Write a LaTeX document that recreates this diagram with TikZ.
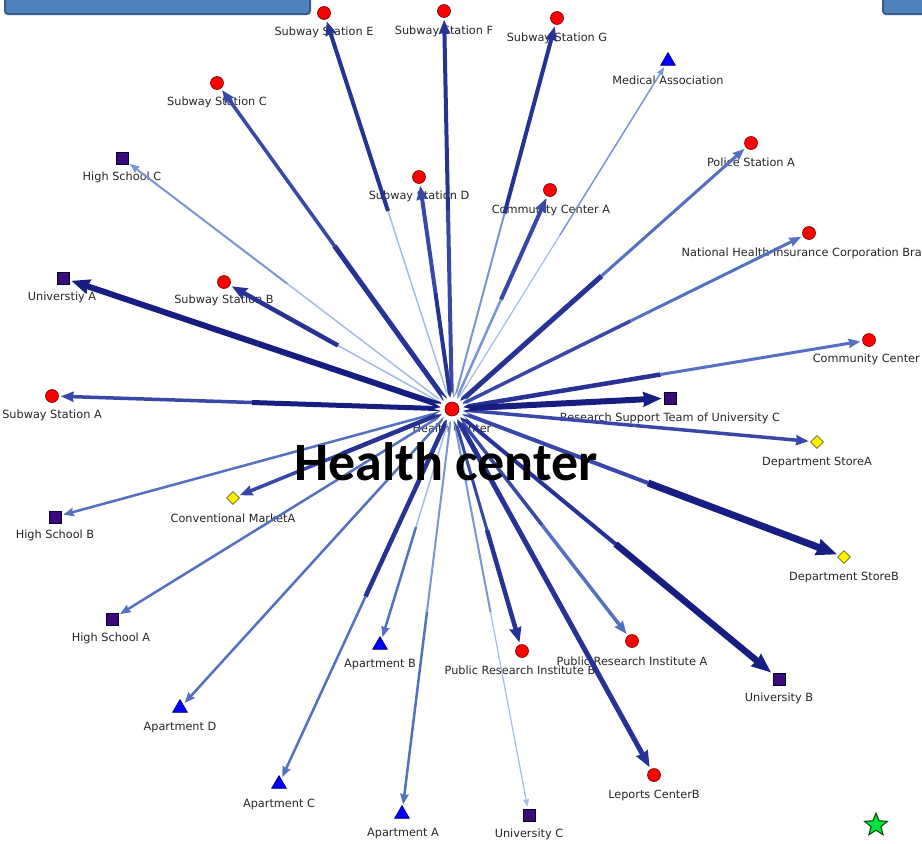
\documentclass[tikz,border=0pt]{standalone}
\usepackage{fontspec}
\setmainfont{DejaVu Sans}
\newfontfamily\headfont{Carlito}
\usetikzlibrary{arrows.meta,calc,shapes.geometric}

\definecolor{navy}{RGB}{22,30,130}
\definecolor{dkblue}{RGB}{38,50,148}
\definecolor{mdblue}{RGB}{55,72,168}
\definecolor{mlblue}{RGB}{84,112,192}
\definecolor{ltblue}{RGB}{122,150,210}
\definecolor{paleblue}{RGB}{165,188,228}
\definecolor{boxfill}{RGB}{79,129,189}
\definecolor{boxline}{RGB}{56,93,138}
\definecolor{sqfill}{RGB}{60,10,120}
\definecolor{starfill}{RGB}{0,230,60}

\tikzset{
  lbl/.style={font=\fontsize{11.3}{13}\selectfont, text=black!85, inner sep=0pt},
  circ/.style={circle, draw=red!45!black, fill=red, minimum size=13pt, inner sep=0pt, line width=0.6pt},
  sq/.style={rectangle, draw=black!80!blue, fill=sqfill, minimum size=12pt, inner sep=0pt, line width=0.6pt},
  tri/.style={regular polygon, regular polygon sides=3, draw=blue!40!black, fill=blue, minimum size=17pt, inner sep=0pt, line width=0.6pt},
  dia/.style={diamond, draw=olive!70!black, fill=yellow, minimum size=13pt, inner sep=0pt, line width=0.6pt},
  tip/.style={-{Stealth[length=5pt 2.2, width=4pt 1.7, inset=1pt]}, shorten >=2pt},
}

% one tie between the health center and an actor, drawn as two halves
\newcommand\spoke[5]{%
  \draw[line width=#2pt, draw=#3] (hc) -- ($(hc)!0.5!(#1)$);
  \draw[line width=#4pt, draw=#5, tip] ($(hc)!0.5!(#1)$) -- (#1);
}

\begin{document}
\begin{tikzpicture}[x=1pt, y=-1pt]
\clip (0,0) rectangle (922,844);
\fill[white] (0,0) rectangle (922,844);

% slide boxes along the top edge
\draw[rounded corners=3pt, fill=boxfill, draw=boxline, line width=2pt] (5,-10) rectangle (310,14);
\draw[rounded corners=3pt, fill=boxfill, draw=boxline, line width=2pt] (883,-10) rectangle (940,14);

% labels
\node[lbl] (sse-t) at (324,32) {Subway Station E};
\node[lbl] (ssf-t) at (444,31) {Subway Station F};
\node[lbl] (ssg-t) at (557,38) {Subway Station G};
\node[lbl] (med-t) at (668,80) {Medical Association};
\node[lbl] (ssc-t) at (217,102) {Subway Station C};
\node[lbl] (hsc-t) at (122,177) {High School C};
\node[lbl] (ssd-t) at (419,196) {Subway Station D};
\node[lbl] (cca-t) at (551,210) {Community Center A};
\node[lbl] (psa-t) at (751,162) {Police Station A};
\node[lbl] (nhic-t) at (812,253) {National Health Insurance Corporation Branch};
\node[lbl] (ccb-t) at (872,359) {Community Center B};
\node[lbl] (una-t) at (62,297) {Universtiy A};
\node[lbl] (ssb-t) at (224,300) {Subway Station B};
\node[lbl] (ssa-t) at (52,415) {Subway Station A};
\node[lbl] (hc-t) at (452,428) {Health Center};
\node[lbl] (rst-t) at (670,418) {Research Support Team of University C};
\node[lbl] (dsa-t) at (817,462) {Department StoreA};
\node[lbl] (cma-t) at (233,518) {Conventional MarketA};
\node[lbl] (hsb-t) at (55,535) {High School B};
\node[lbl] (dsb-t) at (844,577) {Department StoreB};
\node[lbl] (hsa-t) at (111,638) {High School A};
\node[lbl] (apb-t) at (380,665) {Apartment B};
\node[lbl] (prib-t) at (520,670) {Public Research Institute B};
\node[lbl] (pria-t) at (632,661) {Public Research Institute A};
\node[lbl] (unb-t) at (779,698) {University B};
\node[lbl] (apd-t) at (180,728) {Apartment D};
\node[lbl] (apc-t) at (279,804) {Apartment C};
\node[lbl] (apa-t) at (403,834) {Apartment A};
\node[lbl] (unc-t) at (529,834) {University C};
\node[lbl] (lcb-t) at (654,795) {Leports CenterB};

% actors
\coordinate (hc) at (452,409);
\node[circ] (sse) at (324,13) {};
\node[circ] (ssf) at (444,11) {};
\node[circ] (ssg) at (557,18) {};
\node[tri]  (med) at (668,61) {};
\node[circ] (ssc) at (217,83) {};
\node[sq]   (hsc) at (122,158) {};
\node[circ] (ssd) at (419,177) {};
\node[circ] (cca) at (550,190) {};
\node[circ] (psa) at (751,143) {};
\node[circ] (nhic) at (809,233) {};
\node[circ] (ccb) at (869,340) {};
\node[sq]   (una) at (63,278) {};
\node[circ] (ssb) at (224,282) {};
\node[circ] (ssa) at (52,396) {};
\node[sq]   (rst) at (670,398) {};
\node[dia]  (dsa) at (817,442) {};
\node[dia]  (cma) at (233,498) {};
\node[sq]   (hsb) at (55,517) {};
\node[dia]  (dsb) at (844,557) {};
\node[sq]   (hsa) at (112,619) {};
\node[tri]  (apb) at (380,645) {};
\node[circ] (prib) at (522,651) {};
\node[circ] (pria) at (632,641) {};
\node[sq]   (unb) at (779,679) {};
\node[tri]  (apd) at (180,708) {};
\node[tri]  (apc) at (279,784) {};
\node[tri]  (apa) at (402,814) {};
\node[sq]   (unc) at (529,815) {};
\node[circ] (lcb) at (654,775) {};

% ties: target, inner width, inner colour, outer width, outer colour
\spoke{med}{1.2}{paleblue}{1.5}{ltblue}
\spoke{hsc}{1.5}{paleblue}{2}{ltblue}
\spoke{unc}{2}{ltblue}{1.2}{paleblue}
\spoke{apb}{1.5}{paleblue}{2.5}{mlblue}
\spoke{apa}{2}{ltblue}{2.5}{mlblue}
\spoke{apd}{2.5}{mlblue}{2.5}{mlblue}
\spoke{hsa}{2.5}{mlblue}{2.5}{mlblue}
\spoke{hsb}{2.5}{mlblue}{2.5}{mlblue}
\spoke{apc}{4.5}{dkblue}{2.5}{mlblue}
\spoke{sse}{1.5}{paleblue}{4}{dkblue}
\spoke{ssf}{4}{mdblue}{4}{dkblue}
\spoke{ssg}{2}{ltblue}{4}{dkblue}
\spoke{ssd}{4}{dkblue}{4}{mdblue}
\spoke{cca}{2.5}{ltblue}{4}{mdblue}
\spoke{ssc}{5}{dkblue}{3.5}{mdblue}
\spoke{psa}{5}{dkblue}{3}{mlblue}
\spoke{nhic}{3.5}{mdblue}{3}{mlblue}
\spoke{ccb}{4.5}{dkblue}{3}{mlblue}
\spoke{dsa}{3.5}{mdblue}{3.5}{mdblue}
\spoke{pria}{3.5}{mdblue}{3.5}{mlblue}
\spoke{prib}{3}{mdblue}{4.5}{dkblue}
\spoke{cma}{4.5}{dkblue}{3.5}{mdblue}
\spoke{ssa}{5}{navy}{3.5}{mdblue}
\spoke{ssb}{1.5}{paleblue}{4.5}{dkblue}
\spoke{lcb}{5}{dkblue}{5}{dkblue}
\spoke{unb}{4}{dkblue}{6.5}{navy}
\spoke{dsb}{4}{mdblue}{7}{navy}
\spoke{rst}{6}{navy}{6}{navy}
\spoke{una}{6}{navy}{6}{navy}

% health center hub
\node[star, star points=20, star point ratio=1.6, fill=white, minimum size=36pt, inner sep=0pt] (hc-halo) at (hc) {};
\node[circ, minimum size=14pt] (hc-dot) at (hc) {};

\node[font=\headfont\bfseries\fontsize{54}{60}\selectfont, inner sep=0pt] (title) at (446,462) {Health center};

\node[star, star points=5, star point ratio=2.3, fill=starfill, draw=green!25!black, line width=1pt, minimum size=24pt, inner sep=0pt] (legend-star) at (876,825) {};
\end{tikzpicture}
\end{document}
